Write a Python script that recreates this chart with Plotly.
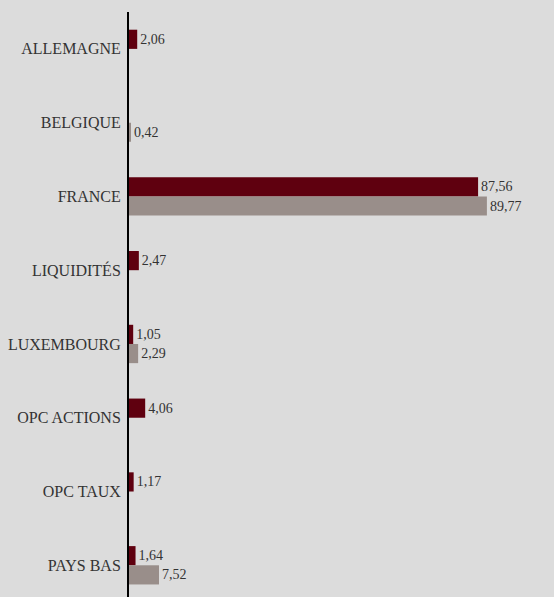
import plotly.graph_objects as go

categories = ["ALLEMAGNE", "BELGIQUE", "FRANCE", "LIQUIDITÉS", "LUXEMBOURG",
              "OPC ACTIONS", "OPC TAUX", "PAYS BAS"]
serie_a = [2.06, None, 87.56, 2.47, 1.05, 4.06, 1.17, 1.64]
serie_b = [None, 0.42, 89.77, None, 2.29, None, None, 7.52]

SERIF = "Times New Roman, Liberation Serif, DejaVu Serif, serif"

def fmt(v):
    return None if v is None else f"{v:.2f}".replace(".", ",")

fig = go.Figure()
fig.add_trace(go.Bar(y=categories, x=serie_a, orientation="h", name="A",
                     marker=dict(color="#5f000f", line=dict(width=0)),
                     text=[fmt(v) for v in serie_a], textposition="outside",
                     textfont=dict(family=SERIF, size=14, color="#333333"),
                     cliponaxis=False, constraintext="none"))
fig.add_trace(go.Bar(y=categories, x=serie_b, orientation="h", name="B",
                     marker=dict(color="#998e8a", line=dict(width=0)),
                     text=[fmt(v) for v in serie_b], textposition="outside",
                     textfont=dict(family=SERIF, size=14, color="#333333"),
                     cliponaxis=False, constraintext="none"))

fig.update_layout(
    width=554, height=597,
    margin=dict(l=129, r=0, t=12, b=0),
    paper_bgcolor="#dcdcdc", plot_bgcolor="#dcdcdc",
    barmode="group", bargap=0.48, bargroupgap=0,
    showlegend=False,
    font=dict(family=SERIF, color="#333333"),
)
fig.update_xaxes(range=[0, 106.6], visible=False, showgrid=False, zeroline=False)
fig.update_yaxes(range=[7.43, -0.5], showgrid=False, zeroline=False,
                 showline=True, linecolor="#000000", linewidth=2,
                 ticks="outside", ticklen=3, tickcolor="rgba(0,0,0,0)",
                 tickfont=dict(family=SERIF, size=16, color="#333333"))

fig.write_html("out.html")
